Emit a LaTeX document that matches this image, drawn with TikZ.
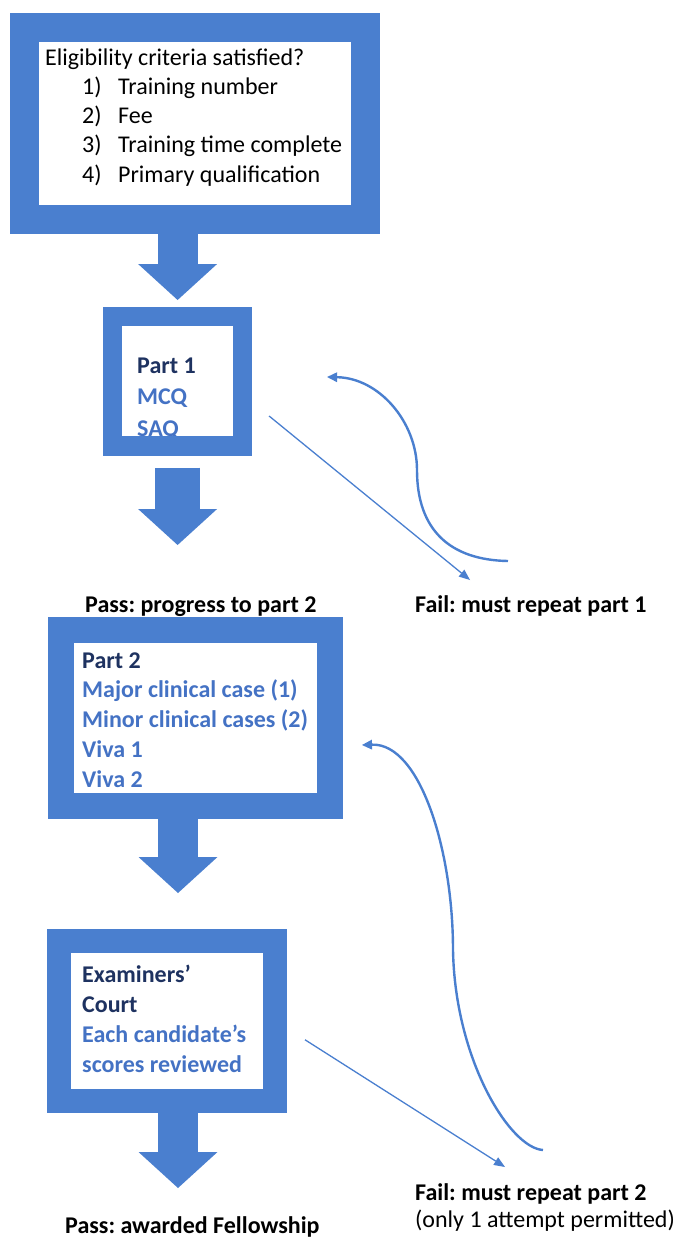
\documentclass[tikz,border=0pt]{standalone}
\usepackage{fontspec}
\setmainfont{Carlito}
\usetikzlibrary{arrows.meta}
\frenchspacing

\definecolor{frameblue}{RGB}{74,127,207}
\definecolor{navy}{RGB}{30,50,96}
\definecolor{textblue}{RGB}{68,114,196}

\tikzset{
	frame/.style={draw=frameblue, inner sep=0pt},
	boxtext/.style={anchor=base west, align=left, inner sep=0pt, text=textblue,
			font=\fontsize{24}{30}\selectfont\bfseries},
	outcome/.style={anchor=base west, align=left, inner sep=0pt,
			font=\fontsize{24}{27}\selectfont\bfseries},
	blockarrow/.style={draw=frameblue, line width=40pt,
			-{Triangle[width=79pt, length=36pt, line width=0pt]}},
	failarrow/.style={draw=frameblue, line width=1.3pt,
			-{Triangle[width=9pt, length=11pt, line width=0pt]}},
	backarrow/.style={draw=frameblue, line width=2.4pt,
			-{Triangle[width=10pt, length=10pt, line width=0pt]}}
}

\begin{document}
\begin{tikzpicture}[x=1pt, y=-1pt]
	\useasboundingbox (0,0) rectangle (682,1240);

	% Eligibility box (base = last line)
	\node[anchor=base west, align=left, inner sep=0pt, font=\fontsize{24}{29.3}\selectfont]
		(eligtext) at (45,182.2) {Eligibility criteria satisfied?\\
			\hspace*{37pt}\makebox[36pt][l]{1)}Training number\\
			\hspace*{37pt}\makebox[36pt][l]{2)}Fee\\
			\hspace*{37pt}\makebox[36pt][l]{3)}Training time complete\\
			\hspace*{37pt}\makebox[36pt][l]{4)}Primary qualification};
	\node[frame, line width=29pt, minimum width=341pt, minimum height=192pt] (elig) at (195,123) {};

	% Part 1
	\node[boxtext, font=\fontsize{24}{31.5}\selectfont\bfseries] (part1text) at (137,436)
		{\textcolor{navy}{Part 1}\\MCQ\\SAQ};
	\node[frame, line width=19.5pt, minimum width=130pt, minimum height=129.5pt] (part1) at (177.6,381) {};

	% Part 2
	\node[boxtext, font=\fontsize{24}{29.8}\selectfont\bfseries] (part2text) at (82,787.2)
		{\textcolor{navy}{Part 2}\\Major clinical case (1)\\Minor clinical cases (2)\\Viva 1\\Viva 2};
	\node[frame, line width=26pt, minimum width=269pt, minimum height=176.5pt] (part2) at (195.5,718) {};

	% Examiners' court
	\node[boxtext] (courttext) at (82,1072)
		{\textcolor{navy}{Examiners’}\\\textcolor{navy}{Court}\\Each candidate’s\\scores reviewed};
	\node[frame, line width=24pt, minimum width=216pt, minimum height=159.5pt] (court) at (167,1020.75) {};

	% Outcomes
	\node[outcome] (pass1) at (85,612) {Pass: progress to part 2};
	\node[outcome] (fail1) at (415,612) {Fail: must repeat part 1};
	\node[outcome] (fail2) at (415,1227) {Fail: must repeat part 2\\\mdseries(only 1 attempt permitted)};
	\node[outcome] (fellow) at (65,1233) {Pass: awarded Fellowship};

	% Block arrows down the left
	\draw[blockarrow] (elig.south -| part1.north) -- ([yshift=6.5pt]part1.north);
	\draw[blockarrow, line width=45pt, shorten <=12pt] (part1.south) -- ([yshift=67pt]pass1.base -| part1.south);
	\draw[blockarrow] (part2.south -| 178,0) -- ([yshift=36pt]court.north -| 178,0);
	\draw[blockarrow] (court.south -| 178,0) -- ([yshift=45pt]fellow.base -| 178,0);

	% Fail arrows
	\draw[failarrow] ([shift={(16.75pt,-35pt)}]part1.east) -- ([shift={(55pt,32pt)}]fail1.base west);
	\draw[failarrow] ([shift={(18pt,-19pt)}]court.east) -- ([shift={(90pt,60pt)}]fail2.base west);

	% Back to the part again
	\draw[backarrow] ([shift={(93pt,51pt)}]fail1.base west)
		.. controls +(-58,-1) and +(0,60) .. (417,470)
		.. controls +(0,-48) and +(52,1) .. ([shift={(74.75pt,4pt)}]part1.east);
	\draw[backarrow] ([shift={(128pt,77pt)}]fail2.base west)
		.. controls +(-33,-2) and +(2,110) .. (453,950)
		.. controls +(0,-100) and +(58,-2) .. ([shift={(19pt,-27pt)}]part2.east);
\end{tikzpicture}
\end{document}
